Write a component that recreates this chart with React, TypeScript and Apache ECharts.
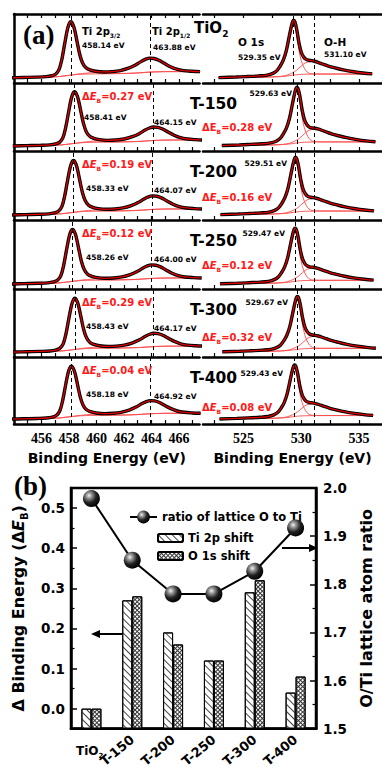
import React, { useEffect, useRef } from 'react';
import * as echarts from 'echarts';

// ---------------- data ----------------
const SAMPLES = ['TiO2', 'T-150', 'T-200', 'T-250', 'T-300', 'T-400'];

// Ti 2p panels
const TI_P32 = [458.14, 458.41, 458.33, 458.26, 458.43, 458.18];
const TI_P12 = [463.88, 464.15, 464.07, 464.0, 464.17, 464.92];
const TI_DASH_P12 = [463.88, 464.15, 464.07, 464.0, 464.17, 463.95];
const TI_SCALE = [1.0, 0.98, 0.97, 0.97, 0.97, 0.97];
const TI_OFFSET = [-4.5, -3.5, -2.5, -1.8, -1.4, -1.1, -0.85, -0.65, -0.45, -0.25, -0.1, 0, 0.1, 0.25, 0.45, 0.65, 0.85, 1.1, 1.4, 1.8, 2.4, 3.0, 3.6, 4.2, 4.7, 5.1, 5.45, 5.75, 6.05, 6.4, 6.8, 7.2, 7.7, 8.2, 8.8, 9.4];
const TI_ENVELOPE = [7.5, 8, 8.5, 9.2, 10.5, 13, 20, 35, 57, 78, 87, 89, 87, 79, 60, 41, 29, 22, 19, 17, 16, 16.5, 18, 21.5, 26, 31, 34.5, 36, 35.5, 33, 28.5, 24, 20, 18, 17, 16.5];
const TI_BACKGROUND = [7.5, 7.8, 8, 8.3, 8.6, 9, 9.4, 9.8, 10.3, 10.8, 11.2, 11.4, 11.6, 11.9, 12.3, 12.6, 12.8, 13, 13.1, 13.2, 13.3, 13.4, 13.6, 13.9, 14.3, 14.8, 15.3, 15.7, 16, 16.2, 16.4, 16.5, 16.5, 16.5, 16.5, 16.5];
const TI_COMP_32 = [7.5, 7.9, 8.3, 9.0, 10.2, 12.7, 19.6, 34.6, 56.5, 77.4, 86.4, 88.3, 86.3, 78.2, 59, 40, 27.8, 20.5, 17, 15, 13.9, 13.8, 13.9, 14.1, 14.5, 15, 15.5, 15.9, 16.1, 16.3, 16.5, 16.5, 16.5, 16.5, 16.5, 16.5];
const TI_COMP_12 = [7.5, 7.8, 8, 8.3, 8.6, 9, 9.4, 9.8, 10.3, 10.8, 11.2, 11.5, 11.8, 12.2, 12.8, 13.3, 13.7, 14.2, 14.8, 15.3, 15.7, 16.2, 17.6, 21.2, 25.7, 30.8, 34.3, 35.8, 35.4, 32.9, 28.4, 24, 20, 18, 17, 16.5];

// O 1s panels
const O_PEAK = [529.35, 529.63, 529.51, 529.47, 529.67, 529.43];
const OH_PEAK = 531.1;
const O_SCALE = [1.0, 1.03, 1.0, 0.97, 0.98, 0.97];
const O_OFFSET = [-6.5, -5, -4, -3, -2.3, -1.8, -1.45, -1.15, -0.9, -0.65, -0.4, -0.2, -0.08, 0, 0.1, 0.25, 0.45, 0.65, 0.85, 1.05, 1.3, 1.55, 1.8, 2.1, 2.5, 3.0, 3.6, 4.3, 5.2, 6.0, 6.8];
const O_ENVELOPE = [7.8, 8.6, 9.4, 10.3, 11.5, 14, 18, 25, 33, 46, 66, 82, 89, 91, 89, 79, 59, 45, 38, 34.5, 33, 32.5, 31.5, 30, 27.5, 24.5, 21.8, 19, 16.3, 14.5, 13.2];
const O_BACKGROUND = [7.8, 8, 8.2, 8.4, 8.6, 8.8, 9, 9.3, 9.6, 10, 10.5, 11, 11.3, 11.5, 11.7, 12, 12.3, 12.5, 12.6, 12.7, 12.8, 12.9, 13, 13, 13, 13, 13, 13, 13, 13, 13];
const O_COMP_LATTICE = [7.8, 8.6, 9.4, 10.3, 11.5, 13.9, 17.8, 24.7, 32.5, 45, 64, 79, 85.5, 87, 84.5, 72, 48, 33, 24, 18, 14.5, 13.3, 13.1, 13, 13, 13, 13, 13, 13, 13, 13];
const O_COMP_OH = [7.8, 8, 8.2, 8.4, 8.6, 8.9, 9.2, 9.6, 10.1, 11, 12.5, 14, 15, 15.8, 16.7, 18.5, 21.5, 24.5, 27.5, 29.5, 30.8, 31.3, 31.3, 30, 27.5, 24.5, 21.8, 19, 16.3, 14.5, 13.2];

// axis ticks (a)
const TI_RANGE = [454, 467.5];
const O_RANGE = [521.5, 537];
const TI_TICKS = [455, 456, 457, 458, 459, 460, 461, 462, 463, 464, 465, 466, 467];
const TI_TICK_LABELS = [456, 458, 460, 462, 464, 466];
const O_TICKS = [522.5, 525, 527.5, 530, 532.5, 535];
const O_TICK_LABELS = [525, 530, 535];

// panel (b)
const TI_2P_SHIFT = [0, 0.27, 0.19, 0.12, 0.29, 0.04];
const O_1S_SHIFT = [0, 0.28, 0.16, 0.12, 0.32, 0.08];
const O_TI_RATIO = [1.978, 1.85, 1.78, 1.78, 1.827, 1.917];
const B_LEFT_MIN = -0.05;
const B_LEFT_MAX = 0.55;
const B_LEFT_TICKS = [0, 0.1, 0.2, 0.3, 0.4, 0.5];
const B_LEFT_MINOR = [0.05, 0.15, 0.25, 0.35, 0.45];
const B_RIGHT_MIN = 1.5;
const B_RIGHT_MAX = 2.0;

// ---------------- layout ----------------
const SANS = '"DejaVu Sans", "Liberation Sans", sans-serif';
const SERIF = '"Liberation Serif", "Times New Roman", serif';
const ROW_TOP = [14, 83, 151, 220, 289, 357];
const ROW_BOTTOM = 424;
const RED = '#ff1a1a';
const FIT_RED = '#e00000';
const THIN_RED = '#ff4a4a';

function pairs(offsets: number[], vals: number[], center: number, scale: number) {
  return offsets.map((d, i) => [Math.round((center + d) * 1000) / 1000, vals[i] * scale]);
}

function richFor(size: number, color: string) {
  const lh = Math.round(size * 1.4);
  return {
    sub: { fontSize: Math.round(size * 0.6), fontWeight: 'bold', fontFamily: SANS, fill: color, color, verticalAlign: 'bottom', lineHeight: lh },
    it: { fontSize: size, fontWeight: 'bold', fontStyle: 'italic', fontFamily: SANS, fill: color, color, lineHeight: lh },
  };
}

function txt(x: number, y: number, text: string, size: number, color = '#000', align = 'left', family = SANS) {
  const lh = Math.round(size * 1.4);
  return {
    type: 'text', x, y, z: 100, silent: true,
    style: {
      text, fontSize: size, fontWeight: 'bold', fontFamily: family, fill: color,
      align, verticalAlign: 'middle', lineHeight: lh, rich: richFor(size, color),
    },
  };
}

function specXAxis(grid: number, range: number[], ticks: number[], labels: number[], bottomRow: boolean, position = 'bottom') {
  return {
    type: 'value', gridIndex: grid, position, min: range[0], max: range[1],
    axisLine: { show: true, onZero: false, lineStyle: { color: '#000', width: 2.5 } },
    axisTick: { show: true, inside: true, length: 4, customValues: ticks, lineStyle: { color: '#000', width: 1.2 } },
    axisLabel: { show: bottomRow && position === 'bottom', customValues: labels, margin: 7, fontFamily: SERIF, fontWeight: 'bold', fontSize: 14, color: '#000' },
    splitLine: { show: false },
    name: bottomRow && position === 'bottom' ? 'Binding Energy (eV)' : '',
    nameLocation: 'middle', nameGap: 27,
    nameTextStyle: { fontFamily: SANS, fontWeight: 'bold', fontSize: 14, color: '#000' },
  };
}

function lineSeries(grid: number, data: number[][], color: string, width: number, z: number) {
  return {
    type: 'line', xAxisIndex: grid, yAxisIndex: grid, data, showSymbol: false, symbol: 'none',
    smooth: 0.35, lineStyle: { color, width }, z, silent: true, clip: true,
  };
}

function dashes(vals: number[]) {
  return {
    silent: true, symbol: 'none', label: { show: false },
    lineStyle: { color: '#000', type: [4, 3], width: 1 },
    data: vals.map((v) => ({ xAxis: v })),
  };
}

function buildOption() {
  const grids: any[] = [];
  const xAxes: any[] = [];
  const yAxes: any[] = [];
  const series: any[] = [];
  const graphics: any[] = [];

  for (let col = 0; col < 2; col++) {
    for (let r = 0; r < 6; r++) {
      const top = ROW_TOP[r];
      const bottom = r < 5 ? ROW_TOP[r + 1] : ROW_BOTTOM;
      grids.push(col === 0
        ? { left: 14, top, width: 185.5, height: bottom - top }
        : { left: 203, top, width: 179, height: bottom - top });
    }
  }
  for (let col = 0; col < 2; col++) {
    for (let r = 0; r < 6; r++) {
      const g = col * 6 + r;
      xAxes.push(col === 0
        ? specXAxis(g, TI_RANGE, TI_TICKS, TI_TICK_LABELS, r === 5)
        : specXAxis(g, O_RANGE, O_TICKS, O_TICK_LABELS, r === 5));
      yAxes.push({
        type: 'value', gridIndex: g, min: 0, max: 100, show: col === 0,
        axisLine: { show: col === 0, onZero: false, lineStyle: { color: '#000', width: 2.5 } },
        axisTick: { show: false }, axisLabel: { show: false }, splitLine: { show: false },
      });
    }
  }
  xAxes.push(specXAxis(0, TI_RANGE, TI_TICKS, TI_TICK_LABELS, false, 'top'));
  xAxes.push(specXAxis(6, O_RANGE, O_TICKS, O_TICK_LABELS, false, 'top'));

  for (let r = 0; r < 6; r++) {
    const g = r;
    const c = TI_P32[r];
    const s = TI_SCALE[r];
    series.push(lineSeries(g, pairs(TI_OFFSET, TI_BACKGROUND, c, s), THIN_RED, 0.9, 2));
    series.push(lineSeries(g, pairs(TI_OFFSET, TI_COMP_32, c, s), THIN_RED, 0.9, 2));
    series.push(lineSeries(g, pairs(TI_OFFSET, TI_COMP_12, c, s), THIN_RED, 0.9, 2));
    series.push({ ...lineSeries(g, pairs(TI_OFFSET, TI_ENVELOPE, c, s), '#000', 3.4, 3), markLine: dashes([TI_P32[r], TI_DASH_P12[r]]) });
    series.push(lineSeries(g, pairs(TI_OFFSET, TI_ENVELOPE, c, s), FIT_RED, 1.3, 4));

    const go = 6 + r;
    const co = O_PEAK[r];
    const so = O_SCALE[r];
    series.push(lineSeries(go, pairs(O_OFFSET, O_BACKGROUND, co, so), THIN_RED, 0.9, 2));
    series.push(lineSeries(go, pairs(O_OFFSET, O_COMP_LATTICE, co, so), THIN_RED, 0.9, 2));
    series.push(lineSeries(go, pairs(O_OFFSET, O_COMP_OH, co, so), THIN_RED, 0.9, 2));
    series.push({ ...lineSeries(go, pairs(O_OFFSET, O_ENVELOPE, co, so), '#000', 3.4, 3), markLine: dashes([O_PEAK[r], OH_PEAK]) });
    series.push(lineSeries(go, pairs(O_OFFSET, O_ENVELOPE, co, so), FIT_RED, 1.3, 4));
  }

  graphics.push(txt(23, 35, '(a)', 27, '#000', 'left', SERIF));
  graphics.push(txt(194, 28, 'TiO{sub|2}', 15));
  graphics.push(txt(82, 31, 'Ti 2p{sub|3/2}', 10));
  graphics.push(txt(82, 45, `${TI_P32[0].toFixed(2)} eV`, 7.5));
  graphics.push(txt(152, 31, 'Ti 2p{sub|1/2}', 10));
  graphics.push(txt(153, 47, `${TI_P12[0].toFixed(2)} eV`, 7.5));
  graphics.push(txt(238, 42, 'O 1s', 10.5));
  graphics.push(txt(238, 57, `${O_PEAK[0].toFixed(2)} eV`, 7.5));
  graphics.push(txt(324, 42, 'O-H', 10.5));
  graphics.push(txt(324, 54, `${OH_PEAK.toFixed(2)} eV`, 7.5));

  const O_EV_POS = [[0, 0], [292, 93], [287, 163], [285, 233], [288, 302], [283, 373]];
  const O_DE_Y = [0, 127, 197, 265, 337, 407];
  for (let r = 1; r < 6; r++) {
    const top = ROW_TOP[r];
    graphics.push(txt(82, top + 13, `Δ{it|E}{sub|B}=${TI_2P_SHIFT[r].toFixed(2)} eV`, 10, RED));
    graphics.push(txt(r === 1 ? 84 : 86, top + (r === 1 ? 34 : 37), `${TI_P32[r].toFixed(2)} eV`, 7.5));
    graphics.push(txt(154, top + 39, `${TI_P12[r].toFixed(2)} eV`, 7.5));
    graphics.push(txt(190, top + 20.5, SAMPLES[r], 15.5));
    graphics.push(txt(O_EV_POS[r][0], O_EV_POS[r][1], `${O_PEAK[r].toFixed(2)} eV`, 7.5, '#000', 'right'));
    graphics.push(txt(202, O_DE_Y[r], r === 1 ? `ΔE{sub|B}=${O_1S_SHIFT[r].toFixed(2)} eV` : `Δ{it|E}{sub|B}=${O_1S_SHIFT[r].toFixed(2)} eV`, 10, RED));
  }

  // ---------------- panel (b) ----------------
  grids.push({ left: 71, top: 488, width: 248, height: 249, show: true, borderColor: '#000', borderWidth: 2.5, backgroundColor: 'transparent' });
  const gb = 12;
  xAxes.push({
    type: 'category', gridIndex: gb, data: SAMPLES,
    axisLine: { onZero: false, lineStyle: { color: '#000', width: 2.5 } },
    axisTick: { show: false },
    axisLabel: {
      interval: 0, rotate: 40, margin: 9, fontFamily: SANS, fontWeight: 'bold', fontSize: 13, color: '#000',
      formatter: (v: string) => (v === 'TiO2' ? '' : v),
    },
  });
  const axTxt = { fontFamily: SANS, fontWeight: 'bold', fontSize: 13.5, color: '#000' };
  yAxes.push({
    type: 'value', gridIndex: gb, position: 'left', min: B_LEFT_MIN, max: B_LEFT_MAX,
    axisLine: { show: true, onZero: false, lineStyle: { color: '#000', width: 2.5 } },
    axisTick: { show: true, inside: true, length: 6, customValues: B_LEFT_TICKS, lineStyle: { color: '#000', width: 1.5 } },
    axisLabel: { customValues: B_LEFT_TICKS, formatter: (v: number) => v.toFixed(1), margin: 6, ...axTxt },
    splitLine: { show: false },
    name: 'Δ Binding Energy (Δ{it|E}{sub|B})', nameLocation: 'middle', nameRotate: 90, nameGap: 42,
    nameTextStyle: { fontFamily: SANS, fontWeight: 'bold', fontSize: 16, color: '#000', rich: {
      it: { fontFamily: SANS, fontWeight: 'bold', fontStyle: 'italic', fontSize: 16, color: '#000' },
      sub: { fontFamily: SANS, fontWeight: 'bold', fontSize: 10, color: '#000', verticalAlign: 'bottom', lineHeight: 22 },
    } },
  });
  yAxes.push({
    type: 'value', gridIndex: gb, position: 'right', min: B_RIGHT_MIN, max: B_RIGHT_MAX, interval: 0.1,
    axisLine: { show: true, onZero: false, lineStyle: { color: '#000', width: 2.5 } },
    axisTick: { show: true, inside: true, length: 6, lineStyle: { color: '#000', width: 1.5 } },
    minorTick: { show: true, splitNumber: 2, length: 3.5, lineStyle: { color: '#000', width: 1.2 } },
    axisLabel: { formatter: (v: number) => v.toFixed(1), margin: 7, ...axTxt },
    splitLine: { show: false }, minorSplitLine: { show: false },
    name: 'O/Ti lattice atom ratio', nameLocation: 'middle', nameRotate: 90, nameGap: 42,
    nameTextStyle: { fontFamily: SANS, fontWeight: 'bold', fontSize: 16, color: '#000' },
  });
  yAxes.push({
    type: 'value', gridIndex: gb, position: 'left', min: B_LEFT_MIN, max: B_LEFT_MAX,
    axisLine: { show: false }, axisLabel: { show: false }, splitLine: { show: false },
    axisTick: { show: true, inside: true, length: 3.5, customValues: B_LEFT_MINOR, lineStyle: { color: '#000', width: 1.2 } },
  });
  yAxes.push({ type: 'value', gridIndex: gb, min: 0, max: B_LEFT_MAX - B_LEFT_MIN, show: false });

  const hatch = { symbol: 'rect', symbolSize: 1, dashArrayX: [1, 0], dashArrayY: [1, 4], rotation: Math.PI / 4, color: '#444' };
  const cross = { symbol: 'rect', symbolSize: 1, dashArrayX: [[1, 2], [1, 2], [3, 0]], dashArrayY: [1, 0], rotation: Math.PI / 4, color: '#333' };
  series.push({
    type: 'bar', name: 'Ti 2p shift', xAxisIndex: 14, yAxisIndex: 15, barWidth: 10, barGap: '0%',
    data: TI_2P_SHIFT.map((v) => v - B_LEFT_MIN),
    itemStyle: { color: '#fff', borderColor: '#000', borderWidth: 1, decal: hatch }, z: 3, silent: true,
  });
  series.push({
    type: 'bar', name: 'O 1s shift', xAxisIndex: 14, yAxisIndex: 15, barWidth: 10, barGap: '0%',
    data: O_1S_SHIFT.map((v) => v - B_LEFT_MIN),
    itemStyle: { color: '#fff', borderColor: '#000', borderWidth: 1, decal: cross }, z: 3, silent: true,
  });
  const ball = new echarts.graphic.RadialGradient(0.36, 0.32, 0.7, [
    { offset: 0, color: '#f4f4f4' },
    { offset: 0.22, color: '#9a9a9a' },
    { offset: 0.6, color: '#222' },
    { offset: 1, color: '#000' },
  ]);
  series.push({
    type: 'line', name: 'ratio of lattice O to Ti', xAxisIndex: 14, yAxisIndex: 13, data: O_TI_RATIO,
    symbol: 'circle', symbolSize: 17, showSymbol: true,
    lineStyle: { color: '#000', width: 2 }, itemStyle: { color: ball, borderWidth: 0 }, z: 6, silent: true,
  });

  graphics.push(txt(14, 486, '(b)', 27, '#000', 'left', SERIF));
  graphics.push(txt(76, 751, 'TiO{sub|2}', 12));
  graphics.push({ type: 'line', z: 100, shape: { x1: 122, y1: 634, x2: 97, y2: 634 }, style: { stroke: '#000', lineWidth: 2 } });
  graphics.push({ type: 'polygon', z: 100, shape: { points: [[91, 634], [100, 630], [100, 638]] }, style: { fill: '#000' } });
  graphics.push({ type: 'line', z: 100, shape: { x1: 282, y1: 548, x2: 310, y2: 548 }, style: { stroke: '#000', lineWidth: 2 } });
  graphics.push({ type: 'polygon', z: 100, shape: { points: [[318, 548], [309, 544], [309, 552]] }, style: { fill: '#000' } });

  const legText = { fontFamily: SANS, fontWeight: 'bold', fontSize: 11.5, color: '#000', lineHeight: 14 };
  return {
    animation: false,
    backgroundColor: '#fff',
    textStyle: { fontFamily: SANS },
    grid: grids,
    xAxis: xAxes,
    yAxis: yAxes,
    legend: [
      { data: ['ratio of lattice O to Ti'], left: 124, top: 505, itemWidth: 27, itemHeight: 16, selectedMode: false, textStyle: legText },
      { data: ['Ti 2p shift', 'O 1s shift'], orient: 'vertical', left: 152, top: 526, itemWidth: 25, itemHeight: 8, itemGap: 4, selectedMode: false, textStyle: legText },
    ],
    series,
    graphic: graphics,
  };
}

export default function App() {
  const ref = useRef<HTMLDivElement>(null);
  useEffect(() => {
    const chart = echarts.init(ref.current as HTMLDivElement, null, { renderer: 'svg' });
    chart.setOption(buildOption() as any);
    return () => chart.dispose();
  }, []);
  return <div ref={ref} style={{ position: 'fixed', left: 0, top: 0, width: 382, height: 770, background: '#fff' }} />;
}
